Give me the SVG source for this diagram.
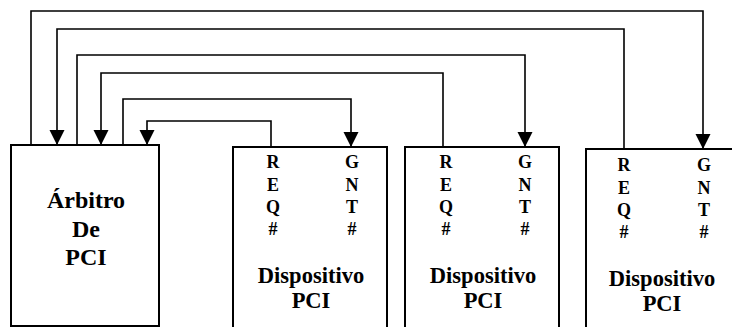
<svg xmlns="http://www.w3.org/2000/svg" width="732" height="327" viewBox="0 0 732 327">
  <defs>
    <marker id="arrow" markerUnits="userSpaceOnUse" markerWidth="16" markerHeight="16" refX="15" refY="7.5" orient="auto">
      <path d="M0,0 L15,7.5 L0,15 z" fill="#000"/>
    </marker>
    <style>
      .box { fill: #fff; stroke: #000; stroke-width: 2; }
      .wire { fill: none; stroke: #000; stroke-width: 1.6; }
      text { font-family: 'Liberation Serif', 'DejaVu Serif', serif; font-weight: bold; text-anchor: middle; fill: #000; }
      .big { font-size: 24px; }
      .lbl { font-size: 22.5px; }
      .pin { font-size: 18px; }
    </style>
  </defs>

  <rect width="732" height="327" fill="#fff"/>

  <!-- PCI arbiter -->
  <g id="arbiter">
    <rect class="box" x="11" y="145" width="148" height="181"/>
    <text class="big" x="86" y="208">Árbitro</text>
    <text class="big" x="86" y="237">De</text>
    <text class="big" x="86" y="265">PCI</text>
  </g>

  <!-- PCI device 1 -->
  <g id="device1">
    <rect class="box" x="233" y="147" width="154" height="200"/>
    <text class="pin" x="273" y="168">R</text>
    <text class="pin" x="273" y="190.5">E</text>
    <text class="pin" x="273" y="212.5">Q</text>
    <text class="pin" x="273" y="235">#</text>
    <text class="pin" x="352" y="168">G</text>
    <text class="pin" x="352" y="190.5">N</text>
    <text class="pin" x="352" y="212.5">T</text>
    <text class="pin" x="352" y="235">#</text>
    <text class="lbl" x="311" y="283">Dispositivo</text>
    <text class="lbl" x="311" y="308">PCI</text>
  </g>

  <!-- PCI device 2 -->
  <g id="device2">
    <rect class="box" x="405" y="147" width="154" height="200"/>
    <text class="pin" x="446" y="168">R</text>
    <text class="pin" x="446" y="190.5">E</text>
    <text class="pin" x="446" y="212.5">Q</text>
    <text class="pin" x="446" y="235">#</text>
    <text class="pin" x="525" y="168">G</text>
    <text class="pin" x="525" y="190.5">N</text>
    <text class="pin" x="525" y="212.5">T</text>
    <text class="pin" x="525" y="235">#</text>
    <text class="lbl" x="483" y="283">Dispositivo</text>
    <text class="lbl" x="483" y="308">PCI</text>
  </g>

  <!-- PCI device 3 -->
  <g id="device3">
    <rect class="box" x="586" y="149" width="170" height="200"/>
    <text class="pin" x="624" y="171">R</text>
    <text class="pin" x="624" y="193.5">E</text>
    <text class="pin" x="624" y="215.5">Q</text>
    <text class="pin" x="624" y="238">#</text>
    <text class="pin" x="704" y="171">G</text>
    <text class="pin" x="704" y="193.5">N</text>
    <text class="pin" x="704" y="215.5">T</text>
    <text class="pin" x="704" y="238">#</text>
    <text class="lbl" x="662" y="286">Dispositivo</text>
    <text class="lbl" x="662" y="311">PCI</text>
  </g>

  <!-- REQ#/GNT# lines between arbiter and devices -->
  <g id="connectors">
    <path class="wire" d="M31,145 V11 H703 V149" marker-end="url(#arrow)"/>
    <path class="wire" d="M624,149 V29 H57 V145" marker-end="url(#arrow)"/>
    <path class="wire" d="M77,145 V55 H525 V147" marker-end="url(#arrow)"/>
    <path class="wire" d="M443,147 V73 H101 V145" marker-end="url(#arrow)"/>
    <path class="wire" d="M123,145 V99 H351 V147" marker-end="url(#arrow)"/>
    <path class="wire" d="M271,147 V121 H147 V145" marker-end="url(#arrow)"/>
  </g>
</svg>
